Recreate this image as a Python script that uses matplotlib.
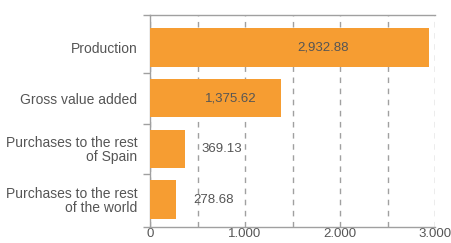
import matplotlib
matplotlib.use("Agg")
import matplotlib.pyplot as plt
from matplotlib.ticker import MultipleLocator, FixedLocator

categories = ["Production", "Gross value added",
              "Purchases to the rest\nof Spain", "Purchases to the rest\nof the world"]
values = [2932.88, 1375.62, 369.13, 278.68]
value_labels = ["2,932.88", "1,375.62", "369.13", "278.68"]
x_ticks = [0, 1000, 2000, 3000]
x_tick_labels = ["0", "1.000", "2.000", "3.000"]

plt.rcParams['font.family'] = ['Liberation Sans', 'DejaVu Sans']
text_color = "#555555"
bar_color = "#F69D32"
line_color = "#a0a0a0"

W, H = 452, 243
fig = plt.figure(figsize=(W / 100, H / 100), dpi=100)
ax = fig.add_axes([150 / W, (H - 227) / H, (435 - 150) / W, (227 - 15) / H])

ypos = list(range(len(categories)))
ax.barh(ypos, values, height=0.76, color=bar_color, zorder=3)

ax.set_xlim(0, 3000)
ax.set_ylim(3.54, -0.64)

for y, v, lab in zip(ypos, values, value_labels):
    if v > 1000:
        ax.text(v * 0.62, y, lab, ha="center", va="center", color=text_color,
                fontsize=9.5, zorder=4)
    else:
        ax.annotate(lab, (v, y), xytext=(12, 0), textcoords="offset points",
                    ha="left", va="center", color=text_color, fontsize=9.5, zorder=4)

# grid
ax.xaxis.set_minor_locator(MultipleLocator(500))
ax.set_xticks(x_ticks)
ax.set_xticklabels(x_tick_labels)
ax.grid(axis="x", which="both", linestyle=(0, (4, 4)), color=line_color, linewidth=1.0, zorder=1)
ax.tick_params(axis="x", which="both", length=0, pad=0.5, labelsize=9.5, labelcolor=text_color)

ax.set_yticks(ypos)
ax.set_yticklabels(categories)
ax.yaxis.set_minor_locator(FixedLocator([-0.64, 0.5, 1.5, 2.5, 3.54]))
ax.tick_params(axis="y", which="major", length=0, pad=9, labelsize=10, labelcolor=text_color)
ax.tick_params(axis="y", which="minor", length=5, width=1, color=line_color)
for t in ax.get_yticklabels():
    t.set_multialignment("right")
    t.set_linespacing(1.0)

for s in ["left", "bottom", "top"]:
    ax.spines[s].set_color(line_color)
    ax.spines[s].set_linewidth(1.0)
ax.spines["right"].set_visible(False)

fig.savefig("out.png", dpi=100)
